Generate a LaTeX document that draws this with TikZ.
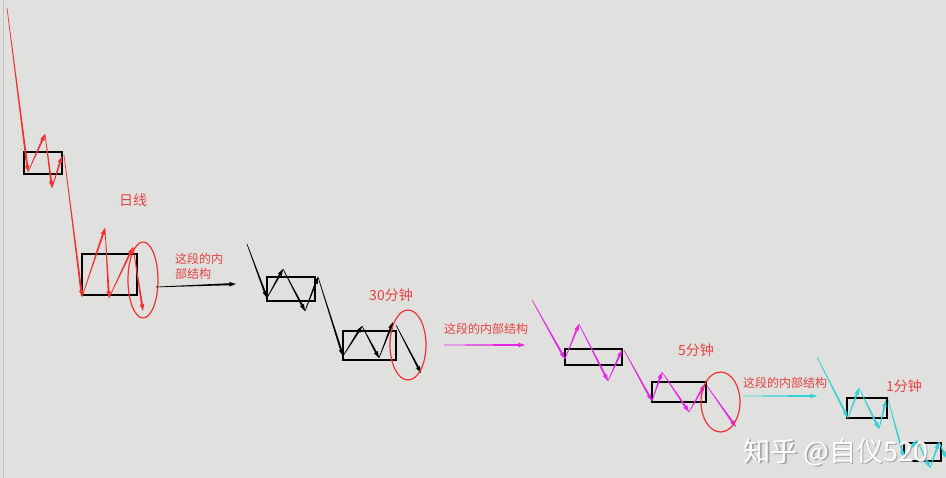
\documentclass[tikz,border=0pt]{standalone}
\usepackage{fontspec}
\newfontfamily\cjk{Noto Sans CJK SC}
\usetikzlibrary{calc}
\definecolor{bg}{RGB}{224,224,222}
\definecolor{lred}{RGB}{240,50,50}
\definecolor{tred}{RGB}{232,66,66}
\definecolor{mag}{RGB}{228,40,228}
\definecolor{cy}{RGB}{50,208,214}
\newcommand\tseg[3]{%
  \coordinate (tE) at ($(#3)!5pt!(#2)$);
  \fill[#1] ($(#2)!0.3pt!90:(#3)$) -- ($(#2)!0.3pt!-90:(#3)$) -- ($(tE)!1.0pt!90:(#2)$) -- ($(tE)!1.0pt!-90:(#2)$) -- cycle;
  \fill[#1] (#3) -- ($(#3)!7pt!19:(#2)$) -- ($(#3)!7pt!-19:(#2)$) -- cycle;
}
\tikzset{
  boxs/.style={draw=black, line width=1.5pt},
  ell/.style={draw=lred, line width=1.2pt},
  lab/.style={text=tred, font=\cjk\fontsize{14pt}{16pt}\selectfont, inner sep=0pt},
  slab/.style={text=tred, font=\cjk\fontsize{12pt}{15pt}\selectfont, inner sep=0pt},
  wmark/.style={font=\cjk\fontsize{27pt}{30pt}\selectfont, inner sep=0pt},
}
\begin{document}
\begin{tikzpicture}[x=1pt,y=-1pt]
\fill[bg] (0,0) rectangle (946,478);
\useasboundingbox (0,0) rectangle (946,478);
\draw[gray!45, line width=0.8pt] (3,0) -- (3,478);
% ---------- red (daily) ----------
\coordinate (r0) at (7,8);
\coordinate (r1) at (28,172);
\coordinate (r2) at (45,134);
\coordinate (r3) at (52,188);
\coordinate (r4) at (62,156);
\coordinate (r5) at (64,155);
\coordinate (r6) at (82,297);
\coordinate (r7) at (105,228);
\coordinate (r8) at (109,298);
\coordinate (r9) at (133,247);
\coordinate (r10) at (143,311);
\draw[boxs] (24,152) rectangle (62,174);
\draw[boxs] (82,254) rectangle (137,295);
\tseg{lred}{r0}{r1}
\tseg{lred}{r1}{r2}
\tseg{lred}{r2}{r3}
\tseg{lred}{r3}{r4}
\tseg{lred}{r5}{r6}
\tseg{lred}{r6}{r7}
\tseg{lred}{r7}{r8}
\tseg{lred}{r8}{r9}
\tseg{lred}{r9}{r10}
\draw[ell] (143,280) ellipse [x radius=15, y radius=38];
\node[lab] (t1) at (133,200) {日线};
\node[slab, anchor=west, align=left] (t2) at (175,266.5) {这段的内\\部结构};
\coordinate (ka) at (156,287);
\coordinate (kb) at (236,284);
\tseg{black}{ka}{kb}
% ---------- black (30 min) ----------
\coordinate (k0) at (247,244);
\coordinate (k1) at (267,298);
\coordinate (k2) at (283,269);
\coordinate (k3) at (305,311);
\coordinate (k4) at (318,277);
\coordinate (k5) at (343,356);
\coordinate (k6) at (362,326);
\coordinate (k7) at (379,358);
\coordinate (k8) at (393,322);
\coordinate (k9) at (396,325);
\coordinate (k10) at (421,373);
\draw[boxs] (267,277) rectangle (315,301);
\draw[boxs] (343,331) rectangle (396,360);
\tseg{black}{k0}{k1}
\tseg{black}{k1}{k2}
\tseg{black}{k2}{k3}
\tseg{black}{k3}{k4}
\tseg{black}{k4}{k5}
\tseg{black}{k5}{k6}
\tseg{black}{k6}{k7}
\tseg{black}{k7}{k8}
\tseg{black}{k9}{k10}
\draw[ell] (408,345) ellipse [x radius=18, y radius=35];
\node[lab] (t3) at (391,295) {30分钟};
\node[slab] (t4) at (486,329) {这段的内部结构};
\coordinate (ma) at (444,345);
\coordinate (mb) at (525,345);
\tseg{mag}{ma}{mb}
% ---------- magenta (5 min) ----------
\coordinate (m0) at (532,300);
\coordinate (m1) at (565,359);
\coordinate (m2) at (579,324);
\coordinate (m3) at (608,381);
\coordinate (m4) at (622,350);
\coordinate (m5) at (624,350);
\coordinate (m6) at (652,401);
\coordinate (m7) at (662,372);
\coordinate (m8) at (689,412);
\coordinate (m9) at (705,384);
\coordinate (m10) at (707,386);
\coordinate (m11) at (736,427);
\draw[boxs] (565,349) rectangle (622,365);
\draw[boxs] (652,382) rectangle (706,402);
\tseg{mag}{m0}{m1}
\tseg{mag}{m1}{m2}
\tseg{mag}{m2}{m3}
\tseg{mag}{m3}{m4}
\tseg{mag}{m5}{m6}
\tseg{mag}{m6}{m7}
\tseg{mag}{m7}{m8}
\tseg{mag}{m8}{m9}
\tseg{mag}{m10}{m11}
\draw[ell] (720.5,402) ellipse [x radius=19.5, y radius=30];
\node[lab] (t5) at (696,350) {5分钟};
\node[slab] (t6) at (785,383) {这段的内部结构};
\coordinate (ca) at (743,396);
\coordinate (cb) at (817,396);
\tseg{cy}{ca}{cb}
% ---------- cyan (1 min) ----------
\coordinate (c0) at (817,357);
\coordinate (c1) at (848,418);
\coordinate (c2) at (859,388);
\coordinate (c3) at (879,429);
\coordinate (c4) at (886,400);
\coordinate (c5) at (888,399);
\coordinate (c6) at (904,458);
\coordinate (c7) at (917,440);
\coordinate (c8) at (930,468);
\coordinate (c9) at (939,442);
\coordinate (c10) at (946,458);
\draw[boxs] (847,398) rectangle (887,418);
\draw[boxs] (904,443) rectangle (941,461);
\tseg{cy}{c0}{c1}
\tseg{cy}{c1}{c2}
\tseg{cy}{c2}{c3}
\tseg{cy}{c3}{c4}
\tseg{cy}{c5}{c6}
\tseg{cy}{c6}{c7}
\tseg{cy}{c7}{c8}
\tseg{cy}{c8}{c9}
\tseg{cy}{c9}{c10}
\node[lab] (t7) at (904,386) {1分钟};
% ---------- watermark ----------
\node[wmark, text=gray!70] (wms) at (837.5,453.5) {知乎 @自仪520};
\node[wmark, text=white] (wm) at (836,452) {知乎 @自仪520};
\end{tikzpicture}
\end{document}
